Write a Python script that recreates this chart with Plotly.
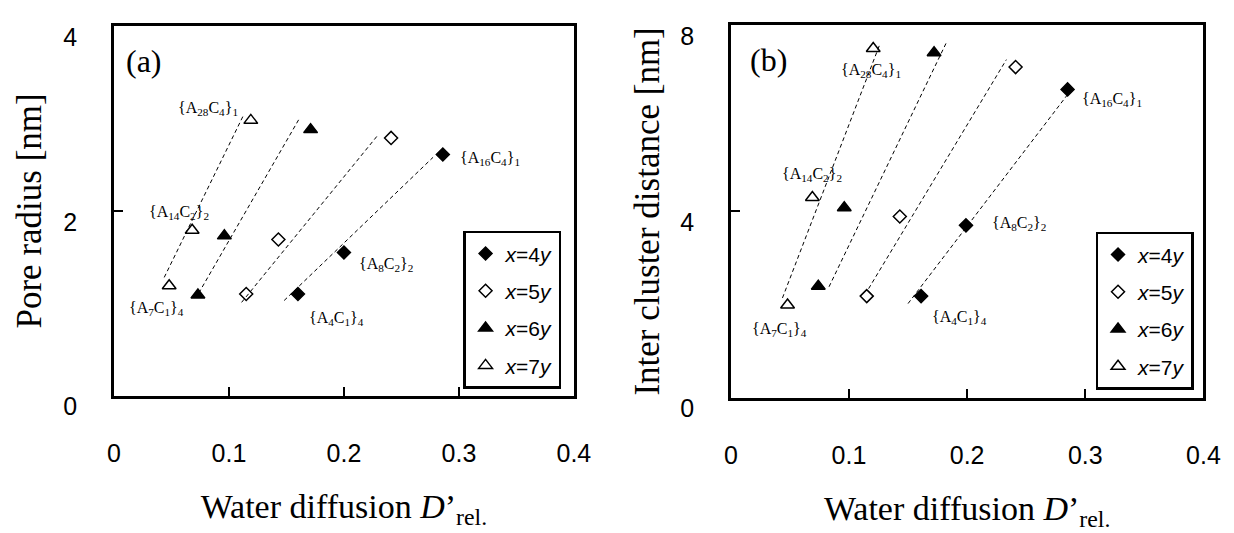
import plotly.graph_objects as go

# ---------------- data ----------------
series_names = ["<i>x</i>=4<i>y</i>", "<i>x</i>=5<i>y</i>", "<i>x</i>=6<i>y</i>", "<i>x</i>=7<i>y</i>"]

# panel (a): pore radius [nm]
a_x4_x = [0.160, 0.200, 0.286]
a_x4_y = [1.10, 1.55, 2.61]
a_x5_x = [0.115, 0.143, 0.241]
a_x5_y = [1.10, 1.69, 2.79]
a_x6_x = [0.073, 0.096, 0.171]
a_x6_y = [1.09, 1.73, 2.88]
a_x7_x = [0.048, 0.068, 0.119]
a_x7_y = [1.19, 1.79, 2.98]

# dashed fit lines (a): end points
a_fit4_x = [0.148, 0.2775]
a_fit4_y = [1.03, 2.58]
a_fit5_x = [0.111, 0.2295]
a_fit5_y = [1.01, 2.82]
a_fit6_x = [0.0737, 0.1617]
a_fit6_y = [1.11, 3.01]
a_fit7_x = [0.0437, 0.1128]
a_fit7_y = [1.28, 3.04]

# panel (b): inter cluster distance [nm]
b_x4_x = [0.161, 0.199, 0.285]
b_x4_y = [2.18, 3.70, 6.62]
b_x5_x = [0.115, 0.143, 0.241]
b_x5_y = [2.18, 3.89, 7.10]
b_x6_x = [0.074, 0.096, 0.172]
b_x6_y = [2.39, 4.08, 7.41]
b_x7_x = [0.048, 0.069, 0.1205]
b_x7_y = [1.99, 4.30, 7.50]

b_fit4_x = [0.150, 0.285]
b_fit4_y = [2.02, 6.51]
b_fit5_x = [0.1166, 0.2332]
b_fit5_y = [2.34, 7.26]
b_fit6_x = [0.0831, 0.1823]
b_fit6_y = [2.38, 7.62]
b_fit7_x = [0.0437, 0.1258]
b_fit7_y = [2.14, 7.57]

# point labels
label_texts = ["{A<sub>28</sub>C<sub>4</sub>}<sub>1</sub>", "{A<sub>14</sub>C<sub>2</sub>}<sub>2</sub>",
               "{A<sub>7</sub>C<sub>1</sub>}<sub>4</sub>", "{A<sub>16</sub>C<sub>4</sub>}<sub>1</sub>",
               "{A<sub>8</sub>C<sub>2</sub>}<sub>2</sub>", "{A<sub>4</sub>C<sub>1</sub>}<sub>4</sub>"]
a_label_x = [0.0822, 0.0567, 0.0372, 0.3267, 0.2367, 0.1937]
a_label_y = [3.11, 1.98, 0.94, 2.57, 1.42, 0.835]
b_label_x = [0.1187, 0.069, 0.0414, 0.3222, 0.2443, 0.1938]
b_label_y = [7.03, 4.79, 1.47, 6.41, 3.75, 1.71]

x_ticks = [0, 0.1, 0.2, 0.3, 0.4]
x_ticktext = ["0", "0.1", "0.2", "0.3", "0.4"]
a_y_ticks = [0, 2, 4]
b_y_ticks = [0, 4, 8]

# ---------------- styling ----------------
SERIF = "Liberation Serif, Times New Roman, serif"
SANS = "Liberation Sans, Arial, sans-serif"
symbols = ["diamond", "diamond-open", "triangle-up", "triangle-up-open"]
sizes = [10, 10, 12, 12]

fig = go.Figure()

panels = [
    ("x", "y", "legend", [(a_x4_x, a_x4_y), (a_x5_x, a_x5_y), (a_x6_x, a_x6_y), (a_x7_x, a_x7_y)],
     [(a_fit4_x, a_fit4_y), (a_fit5_x, a_fit5_y), (a_fit6_x, a_fit6_y), (a_fit7_x, a_fit7_y)]),
    ("x2", "y2", "legend2", [(b_x4_x, b_x4_y), (b_x5_x, b_x5_y), (b_x6_x, b_x6_y), (b_x7_x, b_x7_y)],
     [(b_fit4_x, b_fit4_y), (b_fit5_x, b_fit5_y), (b_fit6_x, b_fit6_y), (b_fit7_x, b_fit7_y)]),
]

for xa, ya, leg, pts, fits in panels:
    for (fx, fy) in fits:
        fig.add_trace(go.Scatter(x=fx, y=fy, mode="lines", xaxis=xa, yaxis=ya,
                                 line=dict(color="black", width=1, dash="4px,3px"),
                                 showlegend=False, hoverinfo="skip"))
    for i, (px, py) in enumerate(pts):
        fig.add_trace(go.Scatter(x=px, y=py, mode="markers", xaxis=xa, yaxis=ya,
                                 name=series_names[i], legend=leg, legendgroup=f"{leg}{i}",
                                 marker=dict(symbol=symbols[i], size=sizes[i], color="black",
                                             line=dict(color="black", width=1.5))))

axis_common = dict(showline=True, linewidth=2.5, linecolor="black", mirror=True,
                   ticks="inside", ticklen=9, tickwidth=2, tickcolor="black",
                   showgrid=False, zeroline=False,
                   tickfont=dict(family=SANS, size=25, color="black"))

xtitle = dict(text="Water diffusion <i>D</i>\u2019<sub>rel.</sub>",
              font=dict(family=SERIF, size=34, color="black"), standoff=28)

fig.update_layout(
    width=1234, height=533, paper_bgcolor="white", plot_bgcolor="white",
    margin=dict(l=0, r=0, t=0, b=0), showlegend=True,
    xaxis=dict(axis_common, domain=[0.0818, 0.4619], range=[0, 0.4], tickvals=x_ticks,
               ticktext=x_ticktext, anchor="y", ticklabelstandoff=34, title=xtitle),
    yaxis=dict(axis_common, domain=[0.2383, 0.970], range=[0, 4], tickvals=a_y_ticks,
               anchor="x", ticklabelstandoff=29, ticklabelshift=11,
               title=dict(text="Pore radius [nm]", font=dict(family=SERIF, size=35, color="black"),
                          standoff=12)),
    xaxis2=dict(axis_common, domain=[0.5916, 0.9822], range=[0, 0.4], tickvals=x_ticks,
                ticktext=x_ticktext, anchor="y2", ticklabelstandoff=34, title=xtitle),
    yaxis2=dict(axis_common, domain=[0.2345, 0.9719], range=[0, 8], tickvals=b_y_ticks,
                anchor="x2", ticklabelstandoff=29, ticklabelshift=11,
                title=dict(text="Inter cluster distance [nm]",
                           font=dict(family=SERIF, size=35, color="black"), standoff=10)),
    legend=dict(x=0.3703, y=0.5647, xanchor="left", yanchor="top", bordercolor="black",
                borderwidth=2.5, bgcolor="white", traceorder="grouped", tracegroupgap=7,
                font=dict(family=SANS, size=21, color="black"), itemwidth=30),
    legend2=dict(x=0.893, y=0.5628, xanchor="left", yanchor="top", bordercolor="black",
                 borderwidth=2.5, bgcolor="white", traceorder="grouped", tracegroupgap=7,
                 font=dict(family=SANS, size=21, color="black"), itemwidth=30),
)

for xr, yr, lx, ly in [("x", "y", a_label_x, a_label_y), ("x2", "y2", b_label_x, b_label_y)]:
    for t, px, py in zip(label_texts, lx, ly):
        fig.add_annotation(x=px, y=py, xref=xr, yref=yr, text=t, showarrow=False,
                           font=dict(family=SERIF, size=16, color="black"))

fig.add_annotation(x=0.0264, y=3.62, xref="x", yref="y", text="(a)", showarrow=False,
                   font=dict(family=SERIF, size=32, color="black"))
fig.add_annotation(x=0.0315, y=7.25, xref="x2", yref="y2", text="(b)", showarrow=False,
                   font=dict(family=SERIF, size=32, color="black"))

fig.write_html("out.html")
